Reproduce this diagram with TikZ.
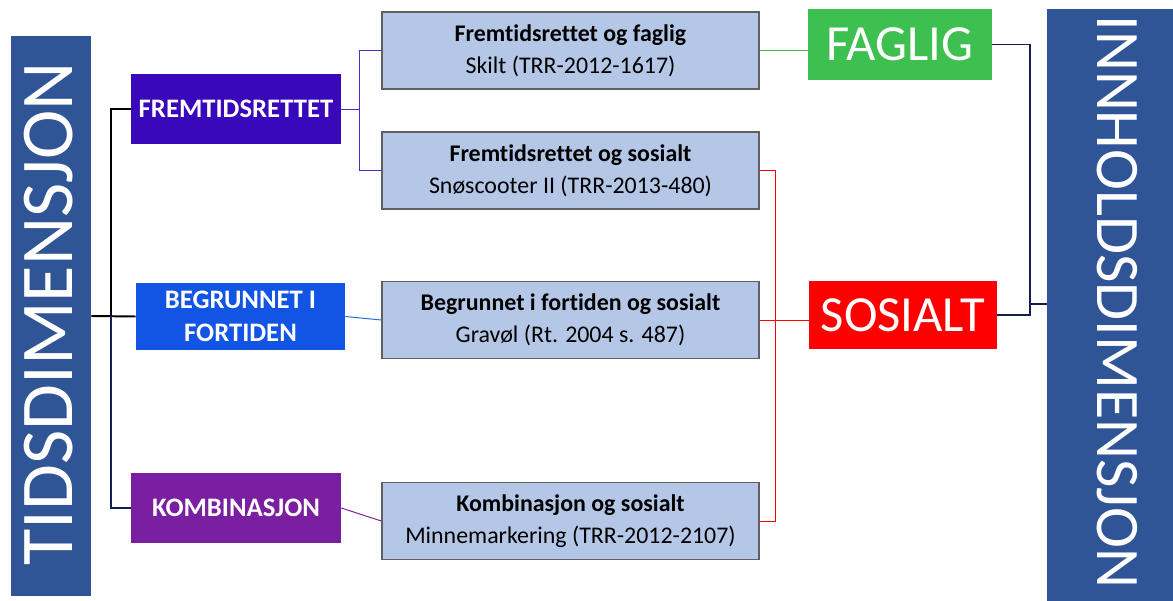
\documentclass[tikz,border=0pt]{standalone}
\usepackage{fontspec}
\setmainfont{Carlito}[Ligatures=NoCommon]
\usepackage{xcolor}
\usepackage{tikz}
\usetikzlibrary{calc, positioning}
\definecolor{dimBlue}{RGB}{47,85,151}
\definecolor{fremCol}{RGB}{56,8,186}
\definecolor{begrCol}{RGB}{18,84,228}
\definecolor{kombCol}{RGB}{123,31,162}
\definecolor{caseFill}{RGB}{180,199,231}
\definecolor{caseDraw}{RGB}{96,96,96}
\definecolor{fagCol}{RGB}{61,192,80}
\definecolor{sosCol}{RGB}{255,0,0}
\definecolor{navyLine}{RGB}{20,30,80}
\definecolor{fremLine}{RGB}{90,40,200}
\definecolor{begrLine}{RGB}{31,111,224}
\tikzset{
    dimBar/.style={rectangle, fill=dimBlue, inner sep=0pt},
    dimText/.style={text=white, inner sep=0pt},
    timeBox/.style={rectangle, text=white, align=center, minimum width=5.25cm, minimum height=1.75cm, inner sep=2pt, font=\bfseries\fontsize{19}{23.5}\selectfont},
    caseBox/.style={rectangle, draw=caseDraw, line width=1pt, fill=caseFill, align=center, minimum width=9.425cm, minimum height=1.925cm, font=\fontsize{17}{22.8}\selectfont},
    contentBox/.style={rectangle, text=white, inner sep=0pt, font=\fontsize{36}{43}\selectfont},
    stem/.style={line width=1.4pt},
    link/.style={line width=0.7pt}
}

\begin{document}
\begin{tikzpicture}
    \useasboundingbox (0,0) rectangle (29.325,15);

    % Tidsdimensjon
    \node[dimBar, minimum width=2cm, minimum height=14cm] (tids) at (1.275,7.1) {};
    \node[dimText, rotate=90, font=\fontsize{53}{63}\selectfont] (tidsText) at (1.225,7.15) {TIDSDIMENSJON};

    \node[timeBox, fill=fremCol] (fremtid) at (5.9,12.275) {FREMTIDSRETTET};
    \node[timeBox, fill=begrCol, minimum width=5.225cm, minimum height=1.675cm] (begrunnet) at (6.0125,7.0875) {BEGRUNNET I\\FORTIDEN};
    \node[timeBox, fill=kombCol] (kombinasjon) at (5.9,2.3) {KOMBINASJON};

    % Eksempler
    \node[caseBox] (faglig1) at (14.2625,13.7375) {\textbf{Fremtidsrettet og faglig}\\Skilt (TRR-2012-1617)};
    \node[caseBox] (sosialt1) at (14.2625,10.7375) {\textbf{Fremtidsrettet og sosialt}\\Snøscooter II (TRR-2013-480)};
    \node[caseBox] (sosialt2) at (14.2625,7.0) {\textbf{Begrunnet i fortiden og sosialt}\\Gravøl (Rt. 2004 s. 487)};
    \node[caseBox] (sosialt3) at (14.2625,1.975) {\textbf{Kombinasjon og sosialt}\\Minnemarkering (TRR-2012-2107)};

    % Innholdsdimensjon
    \node[contentBox, fill=fagCol, minimum width=4.6cm, minimum height=1.775cm] (faglig) at (22.5,13.8875) {FAGLIG};
    \node[contentBox, fill=sosCol, minimum width=4.7cm, minimum height=1.7cm] (sosialt) at (22.575,7.125) {SOSIALT};
    \node[dimBar, minimum width=3.575cm, minimum height=15.525cm] (innhold) at (27.9625,7.0125) {};
    \node[dimText, rotate=-90, anchor=west, font=\fontsize{44}{52}\selectfont] (innholdText) at (27.925,14.62) {INNHOLDSDIMENSJON};

    % Forbindelser
    \coordinate (tidsJoint) at (2.775,7.1);
    \draw[stem, black] (tids.east) -- (begrunnet.west);
    \draw[stem, black] (fremtid.west) -| (tidsJoint);
    \draw[stem, navyLine] (tidsJoint) |- (kombinasjon.west);

    \draw[link, fremLine] (fremtid.east) -- ++(0.45,0) coordinate (fremJoint);
    \draw[link, fremLine] (fremJoint) |- (faglig1.west);
    \draw[link, fremLine] (fremJoint) |- (sosialt1.west);
    \draw[link, begrLine] (begrunnet.east) -- (sosialt2.west);
    \draw[link, kombCol] (kombinasjon.east) -- (sosialt3.west);

    \draw[link, fagCol] (faglig1.east) -- (faglig1.east -| faglig.west);
    \draw[link, sosCol] (sosialt1.east) -- ++(0.4,0) |- (sosialt3.east);
    \draw[link, sosCol] (sosialt2.east) -- (sosialt2.east -| sosialt.west);

    \draw[stem, navyLine] (faglig.east) -- ++(0.95,0) coordinate (innJoint) |- (sosialt.east);
    \coordinate (innStub) at (25.75,7.4);
    \draw[stem, navyLine] (innStub) -- (innStub -| innhold.west);
\end{tikzpicture}
\end{document}
